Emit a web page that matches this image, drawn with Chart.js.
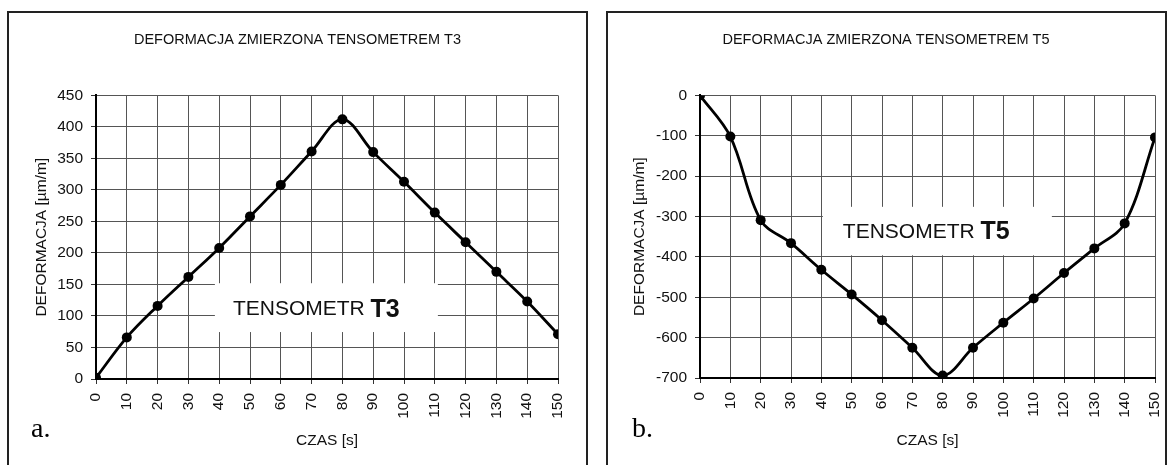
<!DOCTYPE html>
<html>
<head>
<meta charset="utf-8">
<script src="https://cdn.jsdelivr.net/npm/chart.js@4.4.1/dist/chart.umd.min.js"></script>
<style>
  html, body { margin: 0; padding: 0; background: #fff; width: 1170px; height: 465px; overflow: hidden; }
  .frame { position: absolute; border: 2px solid #222; box-sizing: border-box; }
  .wrap { position: absolute; }
  .tag { position: absolute; font-family: 'Liberation Serif', 'Times New Roman', serif; font-size: 28px; color: #000; line-height: 1; }
</style>
</head>
<body>
<div class="frame" style="left:7px; top:11px; width:581px; height:470px;"></div>
<div class="frame" style="left:606px; top:11px; width:561px; height:470px;"></div>
<div class="wrap" style="left:8px; top:12px;"><canvas id="c1" width="579" height="453"></canvas></div>
<div class="wrap" style="left:607px; top:12px;"><canvas id="c2" width="558" height="453"></canvas></div>
<div class="tag" style="left:31px; top:414px;">a.</div>
<div class="tag" style="left:632px; top:414px;">b.</div>
<script>
// ---- data ----
const timeSeconds = [0, 10, 20, 30, 40, 50, 60, 70, 80, 90, 100, 110, 120, 130, 140, 150];
const t3Values = [2, 66, 116, 162, 208, 258, 308, 361, 412, 360, 313, 264, 217, 170, 123, 71];
const t5Values = [0, -102, -309, -366, -432, -493, -557, -625, -694, -625, -563, -503, -440, -379, -317, -104];
const chartTitles = ['DEFORMACJA ZMIERZONA TENSOMETREM T3', 'DEFORMACJA ZMIERZONA TENSOMETREM T5'];
const xAxisTitle = 'CZAS [s]';
const yAxisTitle = 'DEFORMACJA [µm/m]';
const boxLabelPlain = 'TENSOMETR ';
const boxLabelsBold = ['T3', 'T5'];

const FONT = "'Liberation Sans', Arial, sans-serif";

const labelBoxPlugin = {
  id: 'labelBox',
  beforeDatasetsDraw(chart, args, opts) {
    const {ctx, scales: {x, y}} = chart;
    const l = x.getPixelForValue(opts.x0), r = x.getPixelForValue(opts.x1);
    const t = y.getPixelForValue(opts.y1), b = y.getPixelForValue(opts.y0);
    ctx.save();
    ctx.fillStyle = '#fff';
    ctx.fillRect(l, t, r - l, b - t);
    ctx.fillStyle = '#111';
    ctx.textBaseline = 'middle';
    ctx.textAlign = 'left';
    const cy = (t + b) / 2 + opts.dy;
    ctx.font = `21px ${FONT}`;
    ctx.fillText(opts.plain, l + opts.pad, cy);
    const w = ctx.measureText(opts.plain).width;
    ctx.font = `bold 25px ${FONT}`;
    ctx.fillText(opts.bold, l + opts.pad + w, cy);
    ctx.restore();
  }
};

function makeChart(id, values, title, yMin, yMax, yStep, yAxisWidth, xAxisHeight, yTitlePad, rightSpace, box) {
  const pts = timeSeconds.map((t, i) => ({x: t, y: values[i]}));
  return new Chart(document.getElementById(id), {
    type: 'line',
    data: { datasets: [{
      data: pts,
      borderColor: '#000',
      backgroundColor: '#000',
      borderWidth: 2.8,
      pointRadius: 5,
      pointBackgroundColor: '#000',
      pointBorderWidth: 0,
      tension: 0.35,
      fill: false
    }]},
    plugins: [labelBoxPlugin],
    options: {
      responsive: false,
      animation: false,
      events: [],
      layout: { padding: 0 },
      plugins: {
        legend: { display: false },
        tooltip: { enabled: false },
        title: {
          display: true, text: title, color: '#111',
          font: { family: FONT, size: 14.5, weight: 'normal', lineHeight: 1.2 },
          padding: { top: 19, bottom: 47 }
        },
        labelBox: box
      },
      scales: {
        x: {
          type: 'linear', min: 0, max: 150,
          afterFit(s) { s.height = xAxisHeight; s.paddingLeft = 0; s.paddingRight = 0; },
          ticks: { stepSize: 10, minRotation: 90, maxRotation: 90, padding: 9, color: '#111',
                   font: { family: FONT, size: 15.5 } },
          grid: { color: '#555', lineWidth: 1, tickLength: 5, tickColor: '#333' },
          border: { color: '#000', width: 2 },
          title: { display: true, text: xAxisTitle, color: '#111', padding: { top: 0, bottom: 15 },
                   font: { family: FONT, size: 15.5, lineHeight: 1.2 } }
        },
        y: {
          min: yMin, max: yMax,
          afterFit(s) { s.width = yAxisWidth; },
          ticks: { stepSize: yStep, padding: 8, color: '#111', font: { family: FONT, size: 15.5 } },
          grid: { color: '#555', lineWidth: 1, tickLength: 5, tickColor: '#333' },
          border: { color: '#000', width: 2 },
          title: { display: true, text: yAxisTitle, color: '#111', padding: { top: yTitlePad, bottom: 0 },
                   font: { family: FONT, size: 15.5, lineHeight: 1.2 } }
        },
        spacer: {
          type: 'linear', position: 'right', display: true,
          afterFit(s) { s.width = rightSpace; },
          grid: { display: false, drawTicks: false }, border: { display: false },
          ticks: { display: false }
        }
      }
    }
  });
}

makeChart('c1', t3Values, chartTitles[0], 0, 450, 50, 88, 86, 24, 29,
  { x0: 38.6, x1: 111, y0: 74.5, y1: 152, pad: 18, dy: 2, plain: boxLabelPlain, bold: boxLabelsBold[0] });
makeChart('c2', t5Values, chartTitles[1], -700, 0, 100, 93, 87, 23, 10,
  { x0: 40.5, x1: 116, y0: -396, y1: -276, pad: 20, dy: 1, plain: boxLabelPlain, bold: boxLabelsBold[1] });
</script>
</body>
</html>
